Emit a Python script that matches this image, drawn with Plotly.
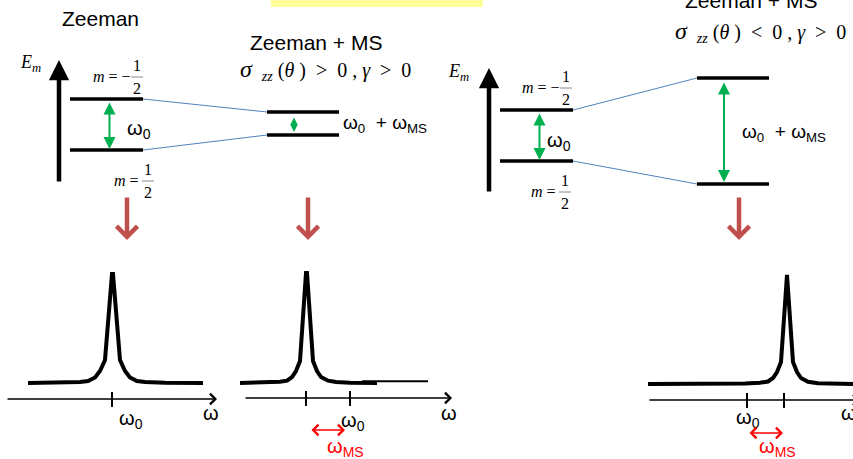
import plotly.graph_objects as go

W, H = 853, 459

# ---------------- data (diagram coordinates, pixel-space axis) ----------------
# Energy levels: y positions of m=-1/2 (upper) and m=+1/2 (lower)
zeeman_A = [99, 150]
ms_A = [112, 135]          # sigma_zz > 0 : levels squeezed
zeeman_B = [110, 161]
ms_B = [78, 184]           # sigma_zz < 0 : levels spread

level_x_zeeman_A = [70, 143]
level_x_ms_A = [267, 339]
level_x_zeeman_B = [500, 573]
level_x_ms_B = [697, 769]

# Spectrum line shapes (omega, intensity)
spec1_w = [28, 62, 80, 88, 95, 100, 105, 112, 113, 120, 125, 130, 137, 145, 165, 203]
spec1_i = [0, 0.3, 1.0, 2.0, 5.5, 12, 23, 109, 109, 23, 12, 5.5, 2.0, 1.0, 0.3, 0]
spec2_w = [240, 265, 280, 287, 292, 296, 300, 306, 307, 313, 317, 321, 328, 336, 350, 377]
spec2_i = [0, 0.5, 1.3, 2.3, 6, 12, 22, 110, 110, 22, 12, 6, 2.3, 1.0, 0.3, 0]
spec2_tail_w = [362, 428]
spec2_tail_i = [1.7, 1.7]
spec3_w = [648, 717, 745, 760, 768, 773, 777, 781, 786, 787, 793, 797, 801, 808, 818, 853]
spec3_i = [0, 0, 0.5, 1.3, 2.5, 6, 12, 22, 109, 109, 22, 12, 6, 2.3, 0.8, 0]
baselines = [383, 383, 384]

tick_labels = ["ω<sub>0</sub>", "ω"]

fig = go.Figure()

def line(xs, ys, color="black", width=3):
    fig.add_trace(go.Scatter(x=xs, y=ys, mode="lines", line=dict(color=color, width=width),
                             hoverinfo="skip", showlegend=False))

def arrow(x, y, ax, ay, color="black", width=2, head=2, size=1, side="end"):
    fig.add_annotation(x=x, y=y, ax=ax, ay=ay, xref="x", yref="y", axref="x", ayref="y",
                       text="", showarrow=True, arrowhead=head, arrowsize=size,
                       arrowwidth=width, arrowcolor=color, arrowside=side,
                       standoff=0, startstandoff=0)

def text(x, y, s, size=18, color="black", family="Liberation Sans, Arial", xanchor="center"):
    fig.add_annotation(x=x, y=y, xref="x", yref="y", text=s, showarrow=False,
                       font=dict(size=size, color=color, family=family), xanchor=xanchor,
                       yanchor="middle")

SERIF = "Liberation Serif, Times New Roman"

# yellow box at top (partially visible)
fig.add_shape(type="rect", x0=271, x1=483, y0=-2, y1=7, xref="x", yref="y",
              fillcolor="#FFFF99", line=dict(width=0), layer="below")

# ---------------- energy-level diagrams ----------------
for zl, ml, xz, xm, ax_x, ax_top, ax_bot, small in [
        (zeeman_A, ms_A, level_x_zeeman_A, level_x_ms_A, 59, 60, 183, True),
        (zeeman_B, ms_B, level_x_zeeman_B, level_x_ms_B, 489, 68, 193, False)]:
    # energy axis
    arrow(ax_x, ax_top, ax_x, ax_bot, width=4.5, head=2, size=0.9)
    # blue connectors
    line([xz[1], xm[0]], [zl[0], ml[0]], color="#4F81BD", width=1)
    line([xz[1], xm[0]], [zl[1], ml[1]], color="#4F81BD", width=1)
    # levels
    for y in zl:
        line(xz, [y, y], width=3.5)
    for y in ml:
        line(xm, [y, y], width=3.5)
    # green double arrows
    gx = (xz[0] + xz[1]) / 2 + 3
    arrow(gx, zl[1] - 1, gx, zl[0] + 2, color="#00B050", width=2, head=2, size=1.2, side="end+start")
    gx2 = xm[0] + 27
    if small:
        arrow(gx2, ml[1] - 3, gx2, ml[0] + 4, color="#00B050", width=2, head=2, size=0.75,
              side="end+start")
    else:
        arrow(gx2, ml[1] - 2, gx2, ml[0] + 3, color="#00B050", width=2, head=2, size=1.2,
              side="end+start")

# level labels
text(125, 129, "ω<sub>0</sub>", size=20, xanchor="left")
text(545, 141, "ω<sub>0</sub>", size=20, xanchor="left")
text(341, 124, "ω<sub>0</sub>  + ω<sub>MS</sub>", size=19, xanchor="left")
text(740, 133, "ω<sub>0</sub>  + ω<sub>MS</sub>", size=19, xanchor="left")

# E_m labels
text(30, 63, "<i>E</i><sub><i>m</i></sub>", size=18, family=SERIF)
text(458, 72, "<i>E</i><sub><i>m</i></sub>", size=18, family=SERIF)

# m = -1/2 and m = 1/2 labels
def mlabel(x_text, y_mid, x_frac, neg):
    s = "<i>m</i> = −" if neg else "<i>m</i> = "
    text(x_text, y_mid, s, size=16, family=SERIF, xanchor="left")
    text(x_frac, y_mid - 11, "1", size=16, family=SERIF)
    text(x_frac, y_mid + 12, "2", size=16, family=SERIF)
    fig.add_shape(type="line", x0=x_frac - 6, x1=x_frac + 6, y0=y_mid + 1, y1=y_mid + 1,
                  xref="x", yref="y", line=dict(color="#888", width=1))

mlabel(91, 76, 137, True)
mlabel(112, 180, 148, False)
mlabel(520, 87, 566, True)
mlabel(529, 191, 565, False)

# titles
text(100, 18, "Zeeman", size=21)
text(316, 42, "Zeeman + MS", size=21)
text(751, 0, "Zeeman + MS", size=21)
cond_pos = ('<span style="font-size:24px"><i>σ</i></span>  <sub><i>zz</i></sub> (<i>θ</i> )  &gt;  0 , '
            '<i>γ</i>  &gt;  0')
cond_neg = cond_pos.replace("&gt;", "&lt;", 1)
text(325, 70, cond_pos, size=20, family=SERIF)
text(760, 32, cond_neg, size=20, family=SERIF)

# red down arrows
for rx in [127, 308, 739]:
    arrow(rx, 240, rx, 196, color="#C0504D", width=4.5, head=4, size=0.9)

# ---------------- spectra ----------------
for ws, iis, base in [(spec1_w, spec1_i, baselines[0]), (spec2_w, spec2_i, baselines[1]),
                      (spec3_w, spec3_i, baselines[2])]:
    line(ws, [base - v for v in iis], width=4)
line(spec2_tail_w, [baselines[1] - v for v in spec2_tail_i], width=2)

# omega axes
for x0, x1, y in [(6, 217, 399), (244, 452, 398), (648, 860, 400)]:
    arrow(x1, y, x0, y, width=1.3, head=4, size=1.6)

# ticks
for tx, ty in [(112, 399), (306, 398), (350, 398), (747, 400), (784, 400)]:
    line([tx, tx], [ty - 7, ty + 8], width=2)

# tick labels
text(131, 419, tick_labels[0], size=20)
text(211, 413, tick_labels[1], size=20)
text(353, 421, tick_labels[0], size=20)
text(449, 413, tick_labels[1], size=20)
text(748, 418, tick_labels[0], size=20)
text(849, 413, tick_labels[1], size=20)

# omega_MS shifts
arrow(345, 430, 310, 430, color="red", width=1.3, head=4, size=1.6, side="end+start")
arrow(783, 433, 748, 433, color="red", width=1.3, head=4, size=1.6, side="end+start")
text(345, 447, "ω<sub>MS</sub>", size=20, color="red")
text(777, 447, "ω<sub>MS</sub>", size=20, color="red")

fig.update_layout(
    width=W, height=H, margin=dict(l=0, r=0, t=0, b=0),
    paper_bgcolor="white", plot_bgcolor="white",
    xaxis=dict(range=[0, W], visible=False, fixedrange=True),
    yaxis=dict(range=[H, 0], visible=False, fixedrange=True),
    showlegend=False,
)

fig.write_html("out.html", config={"displayModeBar": False},
               post_script="document.body.style.margin='0px';document.body.style.overflow='hidden';")
